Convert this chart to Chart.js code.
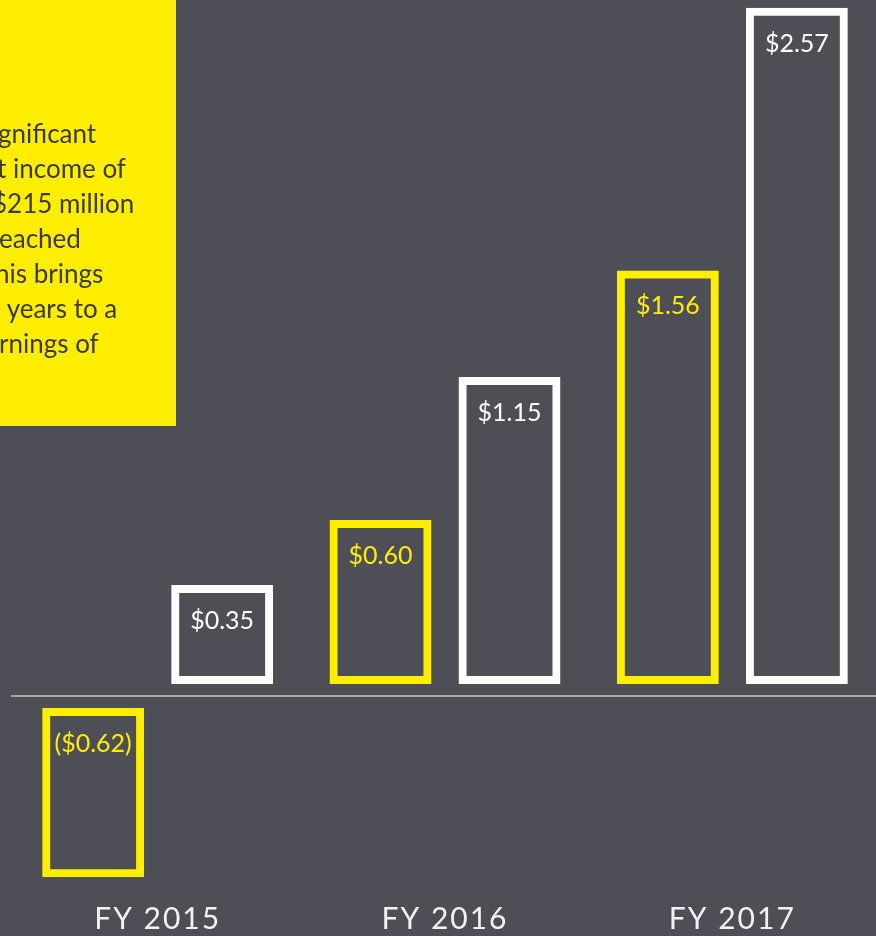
<!DOCTYPE html>
<html>
<head>
<meta charset="utf-8">
<script src="https://cdn.jsdelivr.net/npm/chart.js@4"></script>
<style>
  html, body { margin: 0; padding: 0; background: #4e4e56; }
  canvas { display: block; }
</style>
</head>
<body>
<canvas id="epsChart" width="876" height="936"></canvas>
<script>
// Data: earnings per share, two bars per fiscal year
const years = ['FY 2015', 'FY 2016', 'FY 2017'];
const firstHalf = [-0.62, 0.60, 1.56];   // yellow bars
const secondHalf = [0.35, 1.15, 2.57];   // white bars

// Visible (cut-off) lines of the text box on the left
const noteLines = ['gnificant', 't income of', '$215 million', 'eached', 'his brings', ' years to a', 'rnings of'];
const noteOffsets = [-2, -3, -8, -1, -5, 0, -1];

const bgColor = '#4e4e56';
const yellow = '#ffee00';
const white = '#ffffff';

function fmt(v) {
    const s = '$' + Math.abs(v).toFixed(2);
    return v < 0 ? '(' + s + ')' : s;
}

// Background, yellow text box and letter spacing for the axis labels
const backdrop = {
    id: 'backdrop',
    beforeDraw(chart) {
        const ctx = chart.ctx;
        ctx.save();
        ctx.fillStyle = bgColor;
        ctx.fillRect(0, 0, chart.width, chart.height);
        ctx.fillStyle = yellow;
        ctx.fillRect(0, 0, 176, 426);
        ctx.fillStyle = '#3a3a3e';
        ctx.font = '26px Lato';
        ctx.textBaseline = 'alphabetic';
        noteLines.forEach((line, i) => {
            ctx.fillText(line, noteOffsets[i], 143 + i * 35);
        });
        ctx.restore();
        ctx.letterSpacing = '2px';
    },
    beforeDatasetsDraw(chart) {
        chart.ctx.letterSpacing = '0px';
    }
};

// Bars float a little off the axis line, outline sits outside the value edge
const barGap = 12;
const strokeOut = 8;
const floatBars = {
    id: 'floatBars',
    afterDatasetsUpdate(chart) {
        chart.data.datasets.forEach((ds, i) => {
            chart.getDatasetMeta(i).data.forEach((bar, j) => {
                const dir = ds.data[j] < 0 ? 1 : -1;
                bar.base += dir * barGap;
                bar.y += dir * (barGap + strokeOut);
            });
        });
    },
    afterDatasetsDraw(chart) {
        const ctx = chart.ctx;
        const y0 = chart.scales.y.getPixelForValue(0);
        ctx.save();
        // axis line
        ctx.strokeStyle = '#a7a7ac';
        ctx.lineWidth = 2;
        ctx.beginPath();
        ctx.moveTo(chart.chartArea.left - 3, y0);
        ctx.lineTo(chart.chartArea.right, y0);
        ctx.stroke();
        // value labels
        ctx.font = '25px Lato';
        ctx.textAlign = 'center';
        ctx.textBaseline = 'middle';
        chart.data.datasets.forEach((ds, i) => {
            ctx.fillStyle = ds.borderColor;
            chart.getDatasetMeta(i).data.forEach((bar, j) => {
                const v = ds.data[j];
                const edge = v < 0 ? bar.base : bar.y;
                ctx.fillText(fmt(v), bar.x, edge + 36);
            });
        });
        ctx.restore();
    }
};

const ctx = document.getElementById('epsChart').getContext('2d');
const epsChart = new Chart(ctx, {
    type: 'bar',
    data: {
        labels: years,
        datasets: [{
            label: 'H1',
            data: firstHalf,
            backgroundColor: 'rgba(0,0,0,0)',
            borderColor: yellow,
            borderWidth: 8,
            borderSkipped: false,
            clip: false
        }, {
            label: 'H2',
            data: secondHalf,
            backgroundColor: 'rgba(0,0,0,0)',
            borderColor: white,
            borderWidth: 8,
            borderSkipped: false,
            clip: false
        }]
    },
    options: {
        responsive: false,
        animation: false,
        devicePixelRatio: 1,
        categoryPercentage: 0.898,
        barPercentage: 0.79,
        layout: {
            padding: { top: 20, bottom: 2, left: 14, right: 0 }
        },
        plugins: {
            legend: { display: false },
            tooltip: { enabled: false }
        },
        scales: {
            x: {
                grid: { display: false, drawTicks: false },
                border: { display: false },
                ticks: {
                    color: '#f2f2f2',
                    padding: 0,
                    font: { family: 'Lato', size: 30, lineHeight: 1 }
                }
            },
            y: {
                display: false,
                min: -0.8,
                max: 2.6
            }
        }
    },
    plugins: [backdrop, floatBars]
});
</script>
</body>
</html>
